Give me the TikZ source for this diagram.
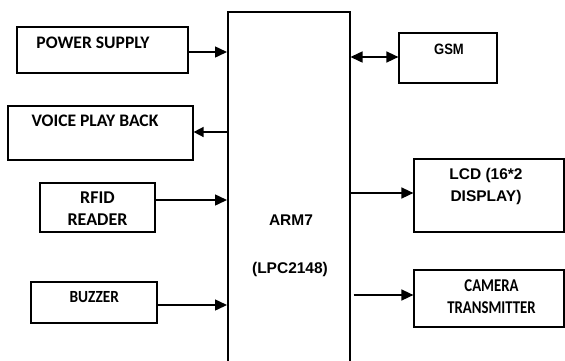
\documentclass[tikz,border=0pt]{standalone}
\usepackage{fontspec}
\setmainfont{Carlito}
\newfontfamily\narrowcal[FakeStretch=0.82]{Carlito Bold}
\newfontfamily\slimcal[FakeStretch=0.9]{Carlito Bold}
\newfontfamily\arialfont{Liberation Sans}
\newfontfamily\narrowarial[FakeStretch=0.87]{Liberation Sans Bold}
\usetikzlibrary{arrows.meta}

\begin{document}
\begin{tikzpicture}[
    x=1pt, y=-1pt,
    >={Triangle[length=12pt, width=11pt]},
    blockbox/.style={rectangle, draw=black, line width=1.2pt, inner sep=0pt},
    blocktext/.style={align=center, anchor=base, inner sep=0pt},
    caltext/.style={blocktext, font=\fontsize{#1}{21.6}\selectfont\bfseries},
    arialtext/.style={blocktext, font=\arialfont\fontsize{#1}{21.6}\selectfont\bfseries},
    link/.style={->, line width=1.5pt},
]
\useasboundingbox (0,0) rectangle (565,360);

% Controller
\node[blockbox, line width=1.5pt, minimum width=122pt, minimum height=360pt, anchor=north west] (arm) at (227,11) {};
\node[arialtext=15.5] (armname) at (291,225.5) {ARM7};
\node[arialtext=15.5] (armchip) at (290,273.5) {(LPC2148)};

% Left blocks
\node[blockbox, minimum width=171pt, minimum height=46pt] (power) at (102.5,50) {};
\node[caltext=17.6] (powertext) at (93,48.3) {POWER SUPPLY};

\node[blockbox, minimum width=185pt, minimum height=54pt] (voice) at (100.5,133) {};
\node[caltext=17.6] (voicetext) at (95,126.7) {VOICE PLAY BACK};

\node[blockbox, minimum width=115pt, minimum height=49pt] (rfid) at (97.5,207.5) {};
\node[caltext=18] (rfidtext) at (97.5,225) {RFID\\READER};

\node[blockbox, minimum width=126pt, minimum height=41pt] (buzzer) at (94,302.5) {};
\node[blocktext, font=\slimcal\fontsize{17}{21.6}\selectfont] (buzzertext) at (94.3,302.3) {BUZZER};

% Right blocks
\node[blockbox, minimum width=98pt, minimum height=50pt] (gsm) at (448,58) {};
\node[blocktext, font=\narrowarial\fontsize{15}{21.6}\selectfont] (gsmtext) at (449,54.7) {GSM};

\node[blockbox, minimum width=150pt, minimum height=73pt] (lcd) at (489,195.5) {};
\node[arialtext=15.5] (lcdtext) at (486,201.5) {LCD (16*2\\DISPLAY)};

\node[blockbox, minimum width=150pt, minimum height=57pt] (camera) at (489,298.5) {};
\node[blocktext, font=\narrowcal\fontsize{18}{21.6}\selectfont] (cameratext) at (491.5,313.3) {CAMERA\\TRANSMITTER};

% Arrows
\coordinate (powerout) at ([yshift=-2pt]power.east);
\draw[link] (powerout) -- (powerout -| arm.west);
\coordinate (voicein) at ([yshift=1pt]voice.east);
\draw[link, >={Triangle[length=10pt, width=10pt]}] (voicein -| arm.west) -- (voicein);
\coordinate (rfidout) at ([yshift=7.5pt]rfid.east);
\draw[link] (rfidout) -- (rfidout -| arm.west);
\coordinate (buzzerout) at ([yshift=-2.5pt]buzzer.east);
\draw[link] (buzzerout) -- (buzzerout -| arm.west);
\coordinate (gsmin) at ([yshift=1pt]gsm.west);
\draw[link, <->] (gsmin -| arm.east) -- (gsmin);
\coordinate (lcdin) at ([yshift=2.5pt]lcd.west);
\draw[link] (lcdin -| arm.east) -- (lcdin);
\coordinate (camerain) at ([yshift=3.5pt]camera.west);
\draw[link] ([xshift=3pt]camerain -| arm.east) -- (camerain);

\end{tikzpicture}
\end{document}
